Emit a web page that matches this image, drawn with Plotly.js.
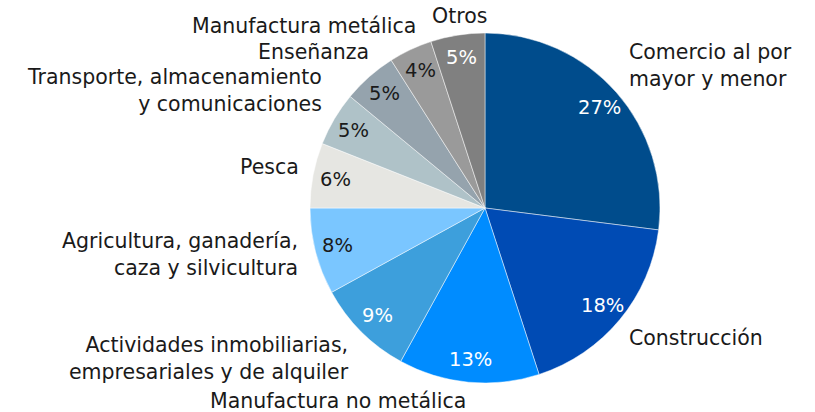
<!DOCTYPE html>
<html>
<head>
<meta charset="utf-8">
<script src="https://cdn.plot.ly/plotly-3.0.1.min.js"></script>
<style>html,body{margin:0;padding:0;background:#fff;}#chart{width:815px;height:412px;}</style>
</head>
<body>
<div id="chart"></div>
<script>
// Data
const categories = [
  "Comercio al por mayor y menor",
  "Construcción",
  "Manufactura no metálica",
  "Actividades inmobiliarias, empresariales y de alquiler",
  "Agricultura, ganadería, caza y silvicultura",
  "Pesca",
  "Transporte, almacenamiento y comunicaciones",
  "Enseñanza",
  "Manufactura metálica",
  "Otros"
];
const values = [27, 18, 13, 9, 8, 6, 5, 5, 4, 5];
const labelText = [
  "Comercio al por<br>mayor y menor",
  "Construcción",
  "Manufactura no metálica",
  "Actividades inmobiliarias,<br>empresariales y de alquiler",
  "Agricultura, ganadería,<br>caza y silvicultura",
  "Pesca",
  "Transporte, almacenamiento<br>y comunicaciones",
  "Enseñanza",
  "Manufactura metálica",
  "Otros"
];

// Styles
const colors = ["#004c8c","#004bb4","#008cff","#3d9fdc","#7ac6ff","#e6e6e2","#afc2c8","#95a3ad","#9a9a9a","#808080"];
const pctColors = ["#ffffff","#ffffff","#ffffff","#ffffff","#1a1a1a","#1a1a1a","#1a1a1a","#1a1a1a","#1a1a1a","#ffffff"];
// outside label placement in pixels: [x, y, xanchor, align]
const labelPos = [
  [627, 65, "left", "left"],
  [627, 338, "left", "left"],
  [338, 401, "center", "center"],
  [351, 358, "right", "right"],
  [300, 255, "right", "right"],
  [301, 167, "right", "right"],
  [324, 90, "right", "right"],
  [371, 52, "right", "right"],
  [418, 26, "right", "right"],
  [459, 16, "center", "center"]
];

const W = 815, H = 412;
const cx = 485, cy = 208, R = 175;
const px = x => x / W;
const py = y => 1 - y / H;

const FONT = "DejaVu Sans";
const annotations = [];
// percent labels from data
const total = values.reduce((a, b) => a + b, 0);
let cum = 0;
values.forEach((v, i) => {
  const mid = (cum + v / 2) / total * 2 * Math.PI;
  cum += v;
  const r = 0.87 * R;
  annotations.push({
    x: px(cx + r * Math.sin(mid)), y: py(cy - r * Math.cos(mid)),
    xref: "paper", yref: "paper", showarrow: false,
    text: Math.round(v / total * 100) + "%",
    font: {family: FONT, size: 19.5, color: pctColors[i]},
    xanchor: "center", yanchor: "middle"
  });
});
labelText.forEach((t, i) => {
  const p = labelPos[i];
  annotations.push({
    x: px(p[0]), y: py(p[1]), xref: "paper", yref: "paper", showarrow: false,
    text: t, align: p[3], xanchor: p[2], yanchor: "middle",
    font: {family: FONT, size: 20.5, color: "#1a1a1a"}
  });
});

const trace = {
  type: "pie",
  labels: categories,
  values: values,
  sort: false,
  direction: "clockwise",
  rotation: 0,
  textinfo: "none",
  hoverinfo: "label+percent",
  marker: {colors: colors, line: {color: "rgba(255,255,255,0.6)", width: 0.8}},
  domain: {x: [px(cx - R), px(cx + R)], y: [py(cy + R), py(cy - R)]},
  showlegend: false
};

Plotly.newPlot("chart", [trace], {
  width: W, height: H,
  margin: {l: 0, r: 0, t: 0, b: 0},
  paper_bgcolor: "#ffffff",
  showlegend: false,
  annotations: annotations
}, {displayModeBar: false, staticPlot: true});
</script>
</body>
</html>
